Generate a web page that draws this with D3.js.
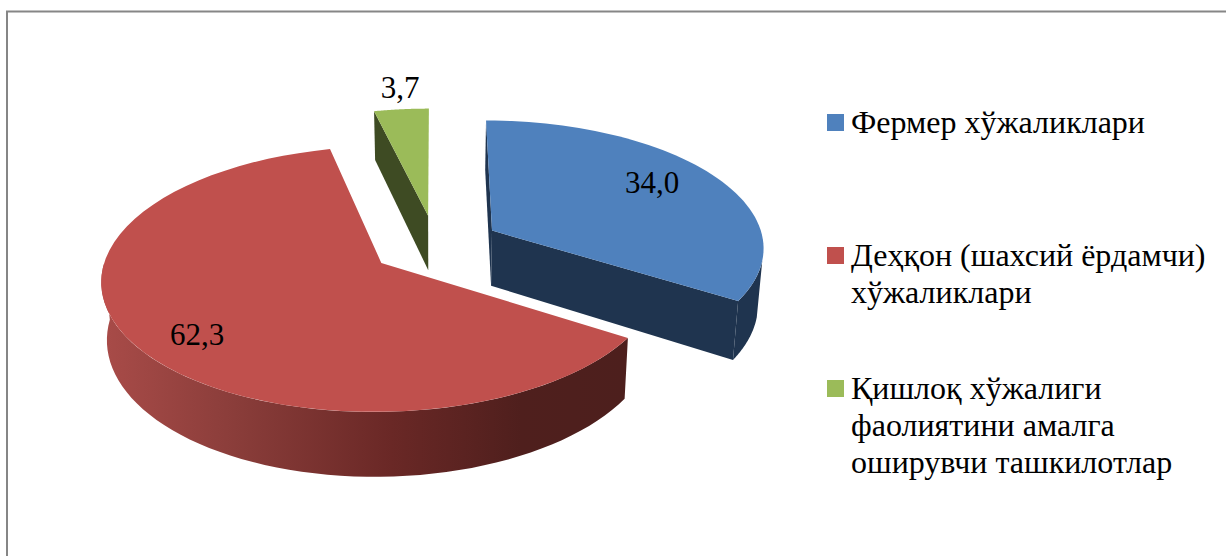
<html>

<head>
    <style>
        body { margin: 0; background: #fff; }
        text { font-family: "Liberation Serif", serif; fill: #000; }
    </style>
</head>

<body>
    <svg id="chart"></svg>
</body>
<script src="https://cdnjs.cloudflare.com/ajax/libs/d3/7.8.5/d3.min.js"></script>
<script>
    const categories = ["Фермер хўжаликлари", "Деҳқон (шахсий ёрдамчи) хўжаликлари", "Қишлоқ хўжалиги фаолиятини амалга оширувчи ташкилотлар"];
    const values = [34.0, 62.3, 3.7];
    const valueLabels = ["34,0", "62,3", "3,7"];
    const legendLines = [["Фермер хўжаликлари"], ["Деҳқон (шахсий ёрдамчи)", "хўжаликлари"], ["Қишлоқ хўжалиги", "фаолиятини амалга", "оширувчи ташкилотлар"]];
    const topColors = ["#4f81bd", "#c0504d", "#9bbb59"];
    const cutColors = ["#1f344f", "#4d1f1d", "#3e4b23"];

    const width = 1226, height = 556;
    const svg = d3.select("svg").attr("width", width).attr("height", height);

    // frame, cut off by the page at the bottom and right
    svg.append("path").attr("d", "M7,556V11.5H1226").attr("fill", "none").attr("stroke", "#868686").attr("stroke-width", 2);

    // caption sits above the page, only its lowest pixels show
    svg.append("text").attr("x", 518).attr("y", -7).attr("font-size", 32).text("(фоизда, жами)");

    // flat pie -> screen with a bit of perspective
    const cx = 435.5, cy = 245, a = 272.5, b = 126.5, p = 0.12, explode = 0.24, depth = 56;
    const project = (u, v, low) => {
        const k = 1 / (1 - p * v);
        const x = cx + a * u * k, y = cy + b * v * k;
        return low ? [cx + (x - cx) * 0.983, y + depth * k] : [x, y];
    };

    const pie = d3.pie().sort(null).startAngle(0).endAngle(2 * Math.PI)(values);
    const slices = pie.map((d, i) => {
        const mid = (d.startAngle + d.endAngle) / 2;
        return { ...d, i, ou: explode * Math.sin(mid), ov: -explode * Math.cos(mid) };
    });
    const pt = (s, t, low) => project(s.ou + Math.sin(t), s.ov - Math.cos(t), low);
    const apex = (s, low) => project(s.ou, s.ov, low);
    const arcPts = (s, t0, t1, low) => d3.range(0, 61).map(k => pt(s, t0 + (t1 - t0) * k / 60, low));
    const line = d3.line();

    const defs = svg.append("defs");
    const redRim = defs.append("linearGradient").attr("id", "redRim").attr("gradientUnits", "userSpaceOnUse")
        .attr("x1", 105).attr("x2", 625).attr("y1", 0).attr("y2", 0);
    [[0, "#a84b48"], [0.25, "#8a3d3a"], [0.55, "#6a2826"], [0.8, "#4f1f1d"], [1, "#4d1f1d"]].forEach(s =>
        redRim.append("stop").attr("offset", s[0]).attr("stop-color", s[1]));

    const [blue, red, green] = slices;
    const g = svg.append("g");

    // green: left cut face, then top
    g.append("path").attr("d", line([pt(green, green.startAngle), apex(green), apex(green, true), pt(green, green.startAngle, true)]) + "Z").attr("fill", cutColors[2]);
    g.append("path").attr("d", line([apex(green), ...arcPts(green, green.startAngle, green.endAngle)]) + "Z").attr("fill", topColors[2]);

    // blue: left sliver, rim, cut face, top
    g.append("path").attr("d", line([pt(blue, 0), apex(blue), apex(blue, true), pt(blue, 0, true)]) + "Z").attr("fill", cutColors[0]);
    g.append("path").attr("d", line([...arcPts(blue, 1.81, blue.endAngle), ...arcPts(blue, blue.endAngle, 1.81, true)]) + "Z").attr("fill", cutColors[0]);
    g.append("path").attr("d", line([apex(blue), pt(blue, blue.endAngle), pt(blue, blue.endAngle, true), apex(blue, true)]) + "Z").attr("fill", cutColors[0]);
    g.append("path").attr("d", line([apex(blue), ...arcPts(blue, blue.startAngle, blue.endAngle)]) + "Z").attr("fill", topColors[0]);

    // red: rim, top
    const redFrom = red.startAngle, redTo = 1.5 * Math.PI;
    g.append("path").attr("d", line([...arcPts(red, redFrom, redTo), ...arcPts(red, redTo, redFrom, true)]) + "Z").attr("fill", "url(#redRim)");
    g.append("path").attr("d", line([apex(red), ...arcPts(red, red.startAngle, red.endAngle)]) + "Z").attr("fill", topColors[1]);

    // value labels
    const labelPos = [[652, 193], [197, 345], [400, 98]];
    svg.append("g").selectAll("text").data(valueLabels).join("text")
        .attr("x", (d, i) => labelPos[i][0]).attr("y", (d, i) => labelPos[i][1])
        .attr("text-anchor", "middle").attr("font-size", 31).text(d => d);

    // legend
    const legendY = [114, 247, 380], lineH = 37;
    const legend = svg.append("g").selectAll("g").data(categories).join("g");
    legend.append("rect").attr("x", 827).attr("y", (d, i) => legendY[i]).attr("width", 17).attr("height", 17).attr("fill", (d, i) => topColors[i]);
    legend.each(function (d, i) {
        d3.select(this).selectAll("text").data(legendLines[i]).join("text")
            .attr("x", 851).attr("y", (l, j) => legendY[i] + 18.5 + j * lineH)
            .attr("font-size", 32).text(l => l);
    });
</script>

</html>
